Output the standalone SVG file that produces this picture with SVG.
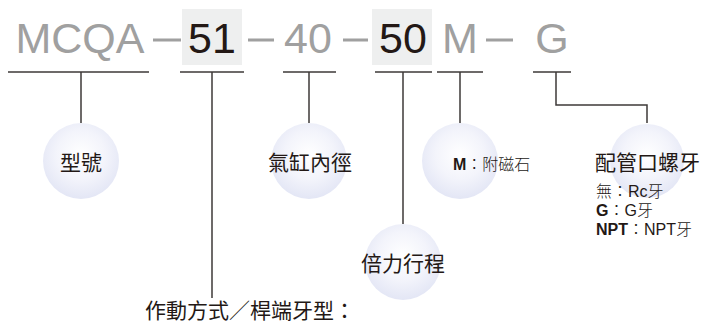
<svg xmlns="http://www.w3.org/2000/svg" width="706" height="324" viewBox="0 0 706 324">
<defs>
<radialGradient id="bub" cx="50%" cy="42%" r="58%">
<stop offset="0" stop-color="#ffffff"/>
<stop offset="0.55" stop-color="#f3f4fb"/>
<stop offset="1" stop-color="#e3e6f5"/>
</radialGradient>
<style>
.code{font-family:"Liberation Sans","DejaVu Sans",sans-serif;font-size:43px;text-anchor:middle}
.gray{fill:#a0a0a0}
.dark{fill:#231815}
.dash{stroke:#a0a0a0;stroke-width:3;fill:none}
.box{fill:#eeefef}
.ln{stroke:#3e3a39;stroke-width:1.5;fill:none}
.bub{fill:url(#bub)}
.lbl{font-family:"Noto Sans CJK TC","Noto Sans CJK SC",sans-serif;font-size:21px;font-weight:400;fill:#231815}
.sm{font-family:"Liberation Sans","Noto Sans CJK TC",sans-serif;font-size:16px;fill:#231815}
.b{font-weight:700}
.thin{font-family:"Noto Sans CJK TC",sans-serif;font-weight:300}
</style>
</defs>
<g id="code">
<rect class="box" x="182" y="9" width="60" height="56"/>
<rect class="box" x="372" y="9" width="60" height="56"/>
<text class="code gray" x="80" y="53">MCQA</text>
<text class="code dark" x="212" y="53">51</text>
<text class="code gray" x="308" y="53">40</text>
<text class="code dark" x="403" y="53">50</text>
<text class="code gray" x="460" y="53">M</text>
<text class="code gray" x="552" y="53">G</text>
<path class="dash" d="M153 40H181M248 40H274M343 40H368M486 40H513"/>
</g>
<g id="connectors">
<path class="ln" d="M8 72H149M81 72V123"/>
<path class="ln" d="M180 72H244M212 72V298"/>
<path class="ln" d="M283 72H336M309 72V123"/>
<path class="ln" d="M375 72H432M403 72V224"/>
<path class="ln" d="M437 72H483M460 72V123"/>
<path class="ln" d="M533 72H571M556 72V105H647V123"/>
</g>
<g id="model">
<circle class="bub" cx="81" cy="161" r="38"/>
<text class="lbl" x="81" y="170" text-anchor="middle">型號</text>
</g>
<g id="bore">
<circle class="bub" cx="309" cy="161" r="38"/>
<text class="lbl" x="310" y="170" text-anchor="middle">氣缸內徑</text>
</g>
<g id="stroke">
<circle class="bub" cx="403" cy="262" r="38"/>
<text class="lbl" x="403" y="271" text-anchor="middle">倍力行程</text>
</g>
<g id="magnet">
<circle class="bub" cx="460" cy="161" r="38"/>
<text class="sm" x="453" y="170" font-size="17.5"><tspan class="b">M</tspan><tspan class="thin" font-weight="700">：</tspan><tspan class="thin">附磁石</tspan></text>
</g>
<g id="port">
<circle class="bub" cx="647" cy="161" r="37"/>
<text class="lbl" x="595" y="170" font-weight="700">配管口螺牙</text>
<text class="sm" x="596" y="197"><tspan class="thin">無</tspan><tspan class="thin" font-weight="700">：</tspan>Rc<tspan class="thin">牙</tspan></text>
<text class="sm" x="596" y="216"><tspan class="b">G</tspan><tspan class="thin" font-weight="700">：</tspan>G<tspan class="thin">牙</tspan></text>
<text class="sm" x="596" y="235"><tspan class="b">NPT</tspan><tspan class="thin" font-weight="700">：</tspan>NPT<tspan class="thin">牙</tspan></text>
</g>
<g id="action">
<text class="lbl" x="145" y="318" font-size="20.5">作動方式／桿端牙型：</text>
</g>
</svg>
